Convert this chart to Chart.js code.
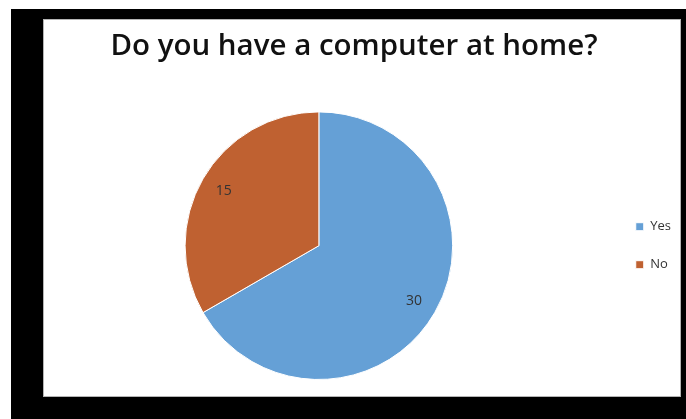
<!DOCTYPE html>
<html>
<head>
<meta charset="utf-8">
<script src="https://cdn.jsdelivr.net/npm/chart.js@4"></script>
<style>
  html, body { margin: 0; padding: 0; background: #fff; }
  body { width: 686px; height: 419px; position: relative; overflow: hidden; }
  .frame { position: absolute; left: 11px; top: 9px; width: 675px; height: 410px; background: #000; }
  .panel { position: absolute; left: 43px; top: 19px; width: 638px; height: 378px; background: #fff;
           box-sizing: border-box; border: 1px solid #b4b4b4; }
  #pie { position: absolute; left: 27px; top: 19px; }
</style>
</head>
<body>
<div class="frame"></div>
<div class="panel"></div>
<canvas id="pie" width="654" height="378"></canvas>
<script>
const labels = ['Yes', 'No'];
const counts = [30, 15];
const colors = ['#65a0d6', '#bf6131'];

// writes each slice's value inside it, along the middle of the arc
const sliceValues = {
  id: 'sliceValues',
  afterDatasetsDraw(chart) {
    const ctx = chart.ctx;
    const meta = chart.getDatasetMeta(0);
    ctx.save();
    ctx.font = '14px "Open Sans", sans-serif';
    ctx.fillStyle = '#333333';
    ctx.textAlign = 'center';
    ctx.textBaseline = 'middle';
    meta.data.forEach((arc, i) => {
      const p = arc.getProps(['x', 'y', 'startAngle', 'endAngle', 'outerRadius'], true);
      const mid = (p.startAngle + p.endAngle) / 2;
      const r = p.outerRadius * 0.82;
      ctx.fillText(String(counts[i]), p.x + Math.cos(mid) * r, p.y + Math.sin(mid) * r);
    });
    ctx.restore();
  }
};

new Chart(document.getElementById('pie'), {
  type: 'pie',
  data: {
    labels: labels,
    datasets: [{
      data: counts,
      backgroundColor: colors,
      borderColor: '#ffffff',
      borderWidth: 1
    }]
  },
  options: {
    responsive: false,
    animation: false,
    layout: { padding: { left: 0, right: 0, top: 0, bottom: 17 } },
    plugins: {
      title: {
        display: true,
        text: 'Do you have a computer at home?',
        color: '#111',
        font: { family: '"Open Sans", sans-serif', size: 29.5, weight: '600' },
        padding: { top: 10, bottom: 47 }
      },
      legend: {
        position: 'right',
        fullSize: false,
        labels: {
          boxWidth: 8,
          boxHeight: 8,
          padding: 25,
          color: '#333333',
          font: { family: '"Open Sans", sans-serif', size: 13 }
        }
      },
      tooltip: { enabled: false }
    }
  },
  plugins: [sliceValues]
});
</script>
</body>
</html>
